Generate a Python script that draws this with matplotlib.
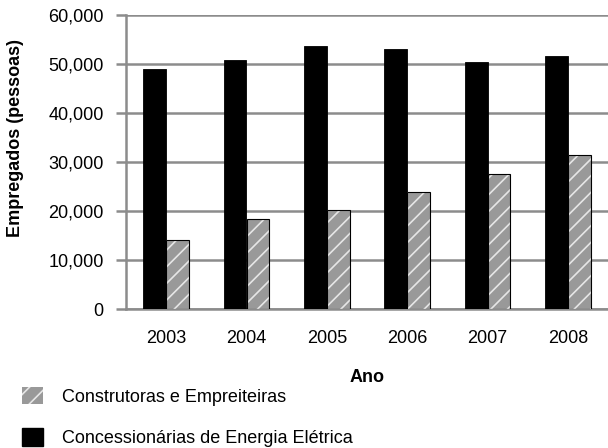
import matplotlib
matplotlib.use("Agg")
import matplotlib.pyplot as plt
import numpy as np
from matplotlib.patches import Patch

# data
anos = ["2003", "2004", "2005", "2006", "2007", "2008"]
concessionarias = [49000, 50800, 53700, 53100, 50400, 51600]
construtoras = [14100, 18400, 20200, 23900, 27600, 31400]
yticks = [0, 10000, 20000, 30000, 40000, 50000, 60000]

plt.rcParams['font.family'] = ['Liberation Sans', 'DejaVu Sans']
plt.rcParams['hatch.linewidth'] = 1.2

W, H = 608, 448
fig = plt.figure(figsize=(W / 100, H / 100), dpi=100)
ax = fig.add_axes([126 / W, 1 - 309 / H, (W - 126) / W, (309 - 15) / H])

grid_c = '#8c8c8c'
x = np.arange(len(anos))
width = 0.285

ax.bar(x - width / 2, concessionarias, width, color='black', edgecolor='black', linewidth=0.6, zorder=3)
# hatched bars: light hatch lines on grey, then a thin black outline on top
ax.bar(x + width / 2, construtoras, width, color='#999999', edgecolor='#e6e6e6', hatch='//', linewidth=0, zorder=3)
ax.bar(x + width / 2, construtoras, width, fill=False, edgecolor='black', linewidth=0.8, zorder=4)

ax.set_xlim(-0.5, len(anos) - 0.5)
ax.set_ylim(0, 60000)
ax.set_yticks(yticks)
ax.set_yticklabels([f"{v:,}" for v in yticks])
ax.set_xticks(x)
ax.set_xticklabels(anos)

ax.yaxis.grid(True, color=grid_c, linewidth=1.8, zorder=0)
ax.set_axisbelow(True)
for s in ['top', 'right']:
    ax.spines[s].set_visible(False)
for s in ['left', 'bottom']:
    ax.spines[s].set_color(grid_c)
    ax.spines[s].set_linewidth(1.8)

ax.tick_params(axis='y', length=7, width=1.8, color=grid_c, pad=9, labelsize=13)
ax.tick_params(axis='x', length=0, pad=15, labelsize=13)

ax.set_xlabel('Ano', fontsize=13, fontweight='bold', labelpad=16)
fig.text(16 / W, 1 - 138 / H, 'Empregados (pessoas)', rotation=90, fontsize=13,
         fontweight='bold', ha='center', va='center')

handles = [
    Patch(facecolor='#999999', edgecolor='#e6e6e6', hatch='//', linewidth=0),
    Patch(facecolor='black', edgecolor='black'),
]
fig.legend(handles, ['Construtoras e Empreiteiras', 'Concessionárias de Energia Elétrica'],
           loc='upper left', bbox_to_anchor=(22 / W, 1 - 387 / H), frameon=False,
           fontsize=13, borderpad=0, borderaxespad=0, handlelength=1.17, handleheight=1.1,
           handletextpad=1.05, labelspacing=1.25)

fig.savefig('out.png', dpi=100)
